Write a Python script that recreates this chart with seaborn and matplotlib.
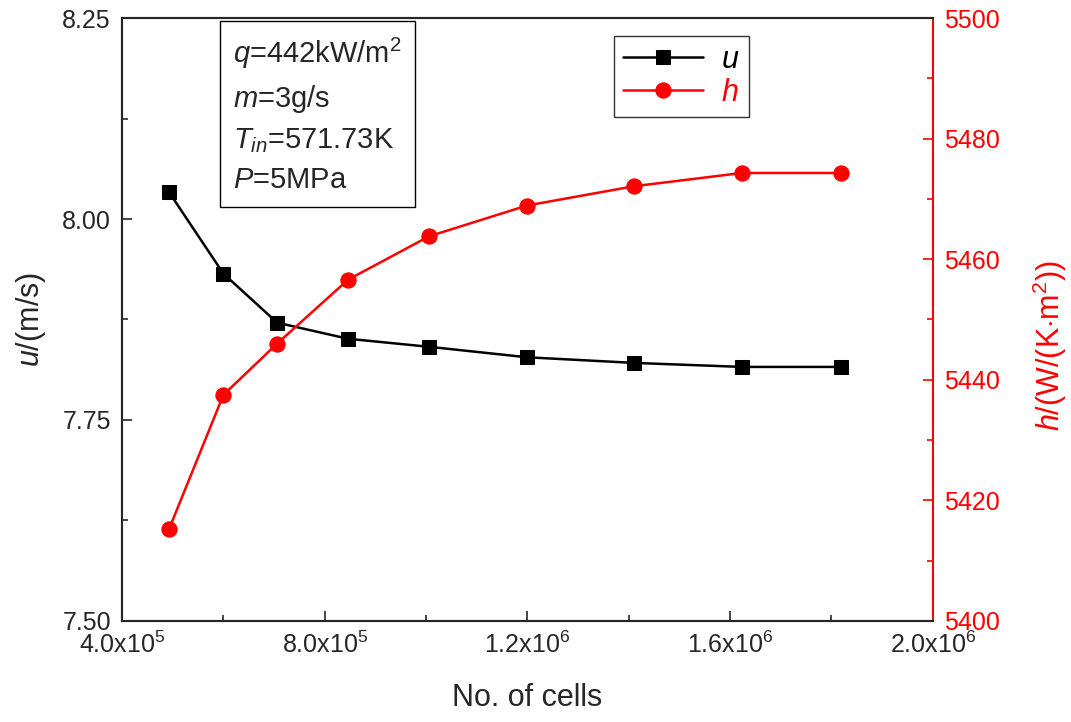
import pandas as pd
import matplotlib
matplotlib.use("Agg")
import matplotlib.pyplot as plt
import seaborn as sns
from matplotlib.ticker import MultipleLocator, FuncFormatter

# data
cells = [4.93e5, 6.0e5, 7.06e5, 8.46e5, 1.006e6, 1.199e6, 1.41e6, 1.623e6, 1.818e6]
u_vals = [8.033, 7.932, 7.871, 7.851, 7.841, 7.828, 7.821, 7.816, 7.816]
h_vals = [5415.3, 5437.5, 5446.0, 5456.6, 5463.8, 5468.9, 5472.1, 5474.3, 5474.3]

x_ticks = [4.0e5, 8.0e5, 1.2e6, 1.6e6, 2.0e6]
x_tick_labels = ["4.0x10$^{\\mathrm{5}}$", "8.0x10$^{\\mathrm{5}}$", "1.2x10$^{\\mathrm{6}}$",
                 "1.6x10$^{\\mathrm{6}}$", "2.0x10$^{\\mathrm{6}}$"]

df = pd.DataFrame({"cells": cells, "u": u_vals, "h": h_vals})

sns.set_style("ticks")
plt.rcParams["font.family"] = ["Liberation Sans", "DejaVu Sans"]
plt.rcParams["mathtext.fontset"] = "custom"
plt.rcParams["mathtext.rm"] = "Liberation Sans"
plt.rcParams["mathtext.it"] = "Liberation Sans:italic"
plt.rcParams["mathtext.default"] = "it"

fig, ax = plt.subplots(figsize=(10.71, 7.22), dpi=100)
fig.subplots_adjust(left=0.114, right=0.871, top=0.975, bottom=0.14)
ax2 = ax.twinx()

sns.lineplot(data=df, x="cells", y="u", ax=ax, color="black", marker="s",
             markersize=10, markeredgecolor="black", linewidth=1.8, label="$u$", legend=False)
sns.lineplot(data=df, x="cells", y="h", ax=ax2, color="red", marker="o",
             markersize=11, markeredgecolor="red", linewidth=1.8, label="$h$", legend=False)

ax.set_xlim(4.0e5, 2.0e6)
ax.set_ylim(7.5, 8.25)
ax2.set_ylim(5400, 5500)

ax.set_xticks(x_ticks)
ax.set_xticklabels(x_tick_labels)
ax.xaxis.set_minor_locator(MultipleLocator(2.0e5))
ax.yaxis.set_major_locator(MultipleLocator(0.25))
ax.yaxis.set_minor_locator(MultipleLocator(0.125))
ax.yaxis.set_major_formatter(FuncFormatter(lambda v, p: f"{v:.2f}"))
ax2.yaxis.set_major_locator(MultipleLocator(20))
ax2.yaxis.set_minor_locator(MultipleLocator(10))

ax.tick_params(which="both", direction="in", labelsize=18, width=1.2)
ax.tick_params(which="major", length=7, pad=8)
ax.tick_params(which="minor", length=4)
ax.tick_params(axis="x", which="both", top=False)
ax2.tick_params(which="both", direction="in", labelsize=18, width=1.2, colors="red")
ax2.tick_params(which="major", length=7, pad=8)
ax2.tick_params(which="minor", length=4)

for s in ["left", "bottom", "top"]:
    ax.spines[s].set_linewidth(1.5)
    ax2.spines[s].set_linewidth(1.5)
ax2.spines["right"].set_color("red")
ax2.spines["right"].set_linewidth(1.5)
ax.spines["right"].set_visible(False)

ax.set_xlabel("No. of cells", fontsize=22, labelpad=18)
ax.set_ylabel("$u$/(m/s)", fontsize=22, labelpad=10)
ax2.set_ylabel("$h$/(W/(K$\\cdot\\mathrm{m}^{\\mathrm{2}}$))", fontsize=22, color="red", labelpad=22)
ax2.yaxis.label.set_y(0.457)

# parameter box
ax.text(0.137, 0.97,
        "$q$=442kW/m$^{\\mathrm{2}}$\n$m$=3g/s\n$T_{in}$=571.73K\n$P$=5MPa",
        transform=ax.transAxes, fontsize=21, va="top", ha="left", linespacing=1.5,
        bbox=dict(boxstyle="square,pad=0.45", facecolor="white", edgecolor="black", linewidth=1))

h1, l1 = ax.get_legend_handles_labels()
h2, l2 = ax2.get_legend_handles_labels()
leg = ax2.legend(h1 + h2, l1 + l2, loc="upper left", bbox_to_anchor=(0.588, 0.996),
                 fontsize=22, frameon=True, fancybox=False, edgecolor="black",
                 handlelength=2.6, borderpad=0.3, labelspacing=0.1, handletextpad=0.6)
leg.get_frame().set_linewidth(1)
for txt, col in zip(leg.get_texts(), ["black", "red"]):
    txt.set_color(col)

fig.savefig("out.png", dpi=100)
